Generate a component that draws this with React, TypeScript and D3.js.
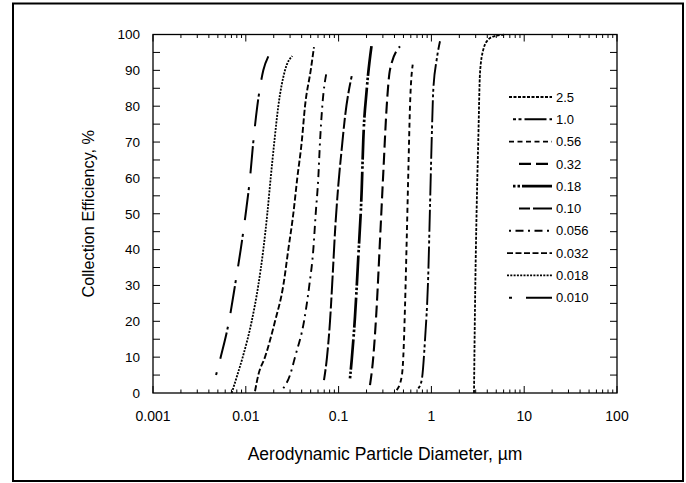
import React, { useEffect, useRef } from 'react';
import * as d3 from 'd3';

// stage cut sizes, µm (legend order)
const stages = ['2.5', '1.0', '0.56', '0.32', '0.18', '0.10', '0.056', '0.032', '0.018', '0.010'];

// diameter (µm) / efficiency (%) for each stage
const d250 = [2.878, 2.95, 3.077, 3.202, 3.34, 3.625, 4.104, 4.846, 6.211];
const e250 = [0, 24, 52, 70.7, 89.3, 95.8, 98.6, 99.6, 100];
const d100 = [0.7225, 0.7863, 0.8531, 0.926, 0.9658, 1.0074, 1.0483, 1.1403, 1.2376];
const e100 = [1.3, 3.6, 14.8, 33.4, 52, 70.7, 84.6, 93, 98.1];
const d056 = [0.4227, 0.4786, 0.498, 0.5195, 0.5419, 0.5638, 0.588, 0.6287];
const e056 = [0.8, 4.6, 10.1, 24.1, 42.7, 61.4, 80, 91.6];
const d032 = [0.2179, 0.2366, 0.2574, 0.2794, 0.3031, 0.3299, 0.3581, 0.4587];
const e032 = [2.2, 10.1, 24.1, 42.7, 61.4, 80, 90.2, 96.7];
const d018 = [0.1327, 0.1384, 0.1502, 0.1631, 0.1774, 0.1846, 0.2009, 0.2273];
const e018 = [4.1, 9.2, 21.3, 38, 56.7, 70.7, 84.6, 97.2];
const d010 = [0.0696, 0.075, 0.0808, 0.0864, 0.0915, 0.0993, 0.108, 0.1172, 0.1384];
const e010 = [3.6, 10, 20, 33, 45, 58, 68, 77, 88.4];
const d0056 = [0.02536, 0.02995, 0.0339, 0.04239, 0.04834, 0.05339, 0.05665, 0.06042, 0.06303, 0.06673, 0.07444];
const e0056 = [1.3, 5, 10, 20, 30, 40, 50, 60, 70, 80, 89.7];
const d0032 = [0.01257, 0.01363, 0.0161, 0.02064, 0.02536, 0.02871, 0.0325, 0.03589, 0.04004, 0.04345, 0.05005, 0.05431];
const e0032 = [0.5, 5, 10, 20, 30, 40, 50, 60, 70, 80, 90, 96.5];
const d0018 = [0.00705, 0.0081, 0.00926, 0.01157, 0.01363, 0.01544, 0.01705, 0.01855, 0.02028, 0.0224, 0.02645, 0.0317];
const e0018 = [0, 5, 10, 20, 30, 40, 50, 60, 70, 80, 90, 94];
const d0010 = [0.00478, 0.00536, 0.00659, 0.00765, 0.00881, 0.00997, 0.0111, 0.01204, 0.0133, 0.01544, 0.01748];
const e0010 = [5, 10, 20, 30, 40, 50, 60, 70, 80, 90, 93.9];

const diam = [d250, d100, d056, d032, d018, d010, d0056, d0032, d0018, d0010];
const eff = [e250, e100, e056, e032, e018, e010, e0056, e0032, e0018, e0010];

const xTicks = [0.001, 0.01, 0.1, 1, 10, 100];
const xTickLabels = ['0.001', '0.01', '0.1', '1', '10', '100'];
const yTicks = [0, 10, 20, 30, 40, 50, 60, 70, 80, 90, 100];

// line look per stage, same order as stages
const dashes = ['3,1.5', '3,2.5,3,3,22,3', '5,3.5', '12,5', '2.5,2,2.5,2,30,3', '11,3,19,3', '2,4.5,8,4.5', '6,2.5', '2,1.3', '3,14,27,3'];
const widths = [1.8, 1.9, 1.9, 2.1, 2.7, 2, 1.9, 1.9, 1.8, 2];
const legendStart = [509, 513, 509, 519, 513, 519, 509, 507, 507, 509];

const FONT = '"Liberation Sans", Arial, sans-serif';

export default function App() {
  const ref = useRef<SVGSVGElement>(null);

  useEffect(() => {
    const svg = d3.select(ref.current);
    svg.selectAll('*').remove();

    const width = 686;
    const height = 483;
    const left = 153, right = 617, top = 34.5, bottom = 393;

    svg.attr('width', width).attr('height', height);

    svg.append('rect')
      .attr('x', 13).attr('y', 3.5).attr('width', 670).attr('height', 477.5)
      .attr('fill', 'white').attr('stroke', 'black').attr('stroke-width', 2);

    const x = d3.scaleLog().domain([0.001, 100]).range([left, right]);
    const y = d3.scaleLinear().domain([0, 100]).range([bottom, top]);

    // frame
    svg.append('rect')
      .attr('x', left).attr('y', top).attr('width', right - left).attr('height', bottom - top)
      .attr('fill', 'none').attr('stroke', 'black').attr('stroke-width', 1.3);

    // log ticks on top & bottom
    const minor: number[] = [];
    for (let e = -3; e < 2; e++) {
      for (let m = 2; m <= 9; m++) minor.push(m * Math.pow(10, e));
    }
    const tk = svg.append('g').attr('stroke', 'black').attr('stroke-width', 1);
    minor.forEach((v) => {
      tk.append('line').attr('x1', x(v)).attr('x2', x(v)).attr('y1', bottom).attr('y2', bottom - 3.5);
      tk.append('line').attr('x1', x(v)).attr('x2', x(v)).attr('y1', top).attr('y2', top + 3.5);
    });
    xTicks.forEach((v) => {
      tk.append('line').attr('x1', x(v)).attr('x2', x(v)).attr('y1', bottom).attr('y2', bottom - 7);
      tk.append('line').attr('x1', x(v)).attr('x2', x(v)).attr('y1', top).attr('y2', top + 7);
    });
    d3.range(5, 100, 5).forEach((v) => {
      tk.append('line').attr('x1', left).attr('x2', left + 7).attr('y1', y(v)).attr('y2', y(v));
      tk.append('line').attr('x1', right).attr('x2', right - 7).attr('y1', y(v)).attr('y2', y(v));
    });

    const txt = svg.append('g').attr('font-family', FONT).attr('fill', 'black');
    xTicks.forEach((v, i) => {
      txt.append('text').attr('x', x(v)).attr('y', 421)
        .attr('text-anchor', 'middle').attr('font-size', 14).text(xTickLabels[i]);
    });
    yTicks.forEach((v) => {
      txt.append('text').attr('x', 140).attr('y', y(v) + 4.8)
        .attr('text-anchor', 'end').attr('font-size', 13.5).text(String(v));
    });
    txt.append('text').attr('x', (left + right) / 2).attr('y', 460)
      .attr('text-anchor', 'middle').attr('font-size', 17.5)
      .text('Aerodynamic Particle Diameter, \u00b5m');
    txt.append('text')
      .attr('transform', `translate(94,${(top + bottom) / 2}) rotate(-90)`)
      .attr('text-anchor', 'middle').attr('font-size', 16.3)
      .text('Collection Efficiency, %');

    const line = d3.line<[number, number]>()
      .x((p) => x(p[0]))
      .y((p) => y(p[1]))
      .curve(d3.curveMonotoneX);

    const plot = svg.append('g');
    stages.forEach((s, i) => {
      const pts: [number, number][] = diam[i].map((d, j) => [d, eff[i][j]]);
      plot.append('path')
        .attr('d', line(pts))
        .attr('fill', 'none')
        .attr('stroke', 'black')
        .attr('stroke-width', widths[i])
        .attr('stroke-dasharray', dashes[i]);
    });

    // legend
    const lg = svg.append('g');
    stages.forEach((s, i) => {
      const ly = 97 + i * 22.3;
      lg.append('line')
        .attr('x1', legendStart[i]).attr('x2', 552).attr('y1', ly).attr('y2', ly)
        .attr('stroke', 'black').attr('stroke-width', widths[i])
        .attr('stroke-dasharray', dashes[i]);
      lg.append('text').attr('x', 556).attr('y', ly + 4.6)
        .attr('font-family', FONT).attr('font-size', 13).text(s);
    });
  }, []);

  return <svg ref={ref} style={{ position: 'absolute', left: 0, top: 0 }}></svg>;
}
